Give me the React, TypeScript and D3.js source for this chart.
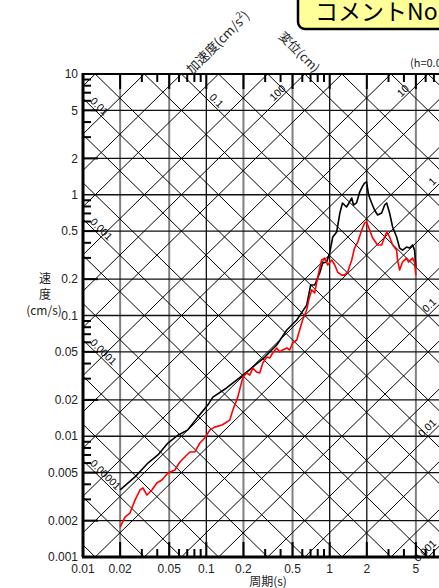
import { useEffect, useRef } from 'react'
import * as d3 from 'd3'

const WIDTH = 439
const HEIGHT = 588
const PLOT = { left: 83, top: 74, right: 453, bottom: 557 }
const TWO_PI = 2 * Math.PI

// period (s) tick labels and velocity (cm/s) tick labels
const periodTicks = [0.01, 0.02, 0.05, 0.1, 0.2, 0.5, 1, 2, 5]
const velocityTicks = [10, 5, 2, 1, 0.5, 0.2, 0.1, 0.05, 0.02, 0.01, 0.005, 0.002, 0.001]
const blackPeriodGrid = [0.1, 1, 2]
const greyPeriodGrid = [0.02, 0.05, 0.2, 0.5, 5]
const mantissas = [1, 2, 5]
const minorMantissas = [2, 3, 4, 5, 6, 7, 8, 9]

// diagonal label values
const dispLeftLabels = ['0.01', '0.001', '0.0001', '0.00001']
const dispTopLabels = ['0.1']
const accTopLabels = ['100', '10']
const accRightLabels = ['1', '0.1', '0.01', '0.001']

// [period s, velocity cm/s]
const blackSpectrum = [
  [0.02, 0.00359], [0.0264, 0.0046], [0.0336, 0.006], [0.0405, 0.007], [0.0488, 0.00879],
  [0.0588, 0.0102], [0.0708, 0.0113], [0.0853, 0.0144], [0.103, 0.0182], [0.113, 0.0211],
  [0.146, 0.0251], [0.198, 0.0321], [0.238, 0.0374], [0.298, 0.0453], [0.372, 0.057],
  [0.449, 0.0759], [0.541, 0.0918], [0.651, 0.122], [0.702, 0.179], [0.756, 0.179],
  [0.83, 0.225], [0.878, 0.272], [0.946, 0.277], [1.0, 0.33], [1.06, 0.447],
  [1.14, 0.492], [1.21, 0.706], [1.27, 0.855], [1.37, 0.792], [1.45, 0.871],
  [1.51, 0.94], [1.56, 0.822], [1.65, 0.855], [1.75, 1.05], [1.85, 1.18],
  [1.92, 1.25], [1.99, 1.28], [2.07, 0.995], [2.19, 0.855], [2.31, 0.748],
  [2.45, 0.68], [2.64, 0.706], [2.79, 0.822], [2.9, 0.855], [3.06, 0.706],
  [3.24, 0.541], [3.49, 0.447], [3.69, 0.362], [3.9, 0.348], [4.2, 0.369],
  [4.44, 0.362], [4.7, 0.384], [4.88, 0.348], [5.0, 0.252],
]

const redSpectrum = [
  [0.02, 0.00177], [0.0219, 0.00214], [0.024, 0.00231], [0.0264, 0.00296], [0.029, 0.00359],
  [0.0306, 0.00373], [0.033, 0.00326], [0.0362, 0.00359], [0.0397, 0.0041], [0.0436, 0.00434],
  [0.0488, 0.00496], [0.0556, 0.00525], [0.061, 0.00612], [0.067, 0.00673], [0.0735, 0.00741],
  [0.0807, 0.00741], [0.0886, 0.00879], [0.0972, 0.00967], [0.107, 0.0113], [0.117, 0.0119],
  [0.134, 0.0124], [0.155, 0.0136], [0.164, 0.0165], [0.18, 0.0211], [0.198, 0.031],
  [0.213, 0.0334], [0.225, 0.0321], [0.238, 0.0367], [0.256, 0.034], [0.271, 0.0334],
  [0.287, 0.0404], [0.309, 0.0453], [0.327, 0.0445], [0.345, 0.0489], [0.372, 0.0538],
  [0.394, 0.0499], [0.416, 0.0518], [0.449, 0.0538], [0.474, 0.0518], [0.501, 0.0592],
  [0.541, 0.0627], [0.571, 0.0759], [0.604, 0.0918], [0.651, 0.111], [0.676, 0.134],
  [0.715, 0.163], [0.756, 0.154], [0.8, 0.208], [0.861, 0.288], [0.912, 0.299],
  [0.964, 0.262], [1.04, 0.288], [1.1, 0.262], [1.16, 0.229], [1.25, 0.216],
  [1.32, 0.216], [1.4, 0.229], [1.51, 0.288], [1.59, 0.362], [1.69, 0.406],
  [1.82, 0.511], [1.92, 0.583], [1.99, 0.595], [2.11, 0.511], [2.23, 0.439],
  [2.45, 0.384], [2.64, 0.384], [2.79, 0.447], [2.9, 0.492], [3.06, 0.447],
  [3.24, 0.384], [3.49, 0.348], [3.55, 0.288], [3.69, 0.238], [3.9, 0.277],
  [4.2, 0.299], [4.36, 0.277], [4.7, 0.299], [4.88, 0.277], [5.0, 0.216],
]

const NUM_FONT = '"Liberation Sans", Arial, sans-serif'
const JP_FONT = '"Noto Sans CJK JP", sans-serif'

function App() {
  const ref = useRef<SVGSVGElement>(null)

  useEffect(() => {
    drawChart()
  }, [])

  const drawChart = () => {
    const svg = d3.select(ref.current)
    svg.selectAll('*').remove()

    const x = d3.scaleLog().domain([0.01, 10]).range([PLOT.left, PLOT.right])
    const y = d3.scaleLog().domain([0.001, 10]).range([PLOT.bottom, PLOT.top])

    svg
      .append('defs')
      .append('clipPath')
      .attr('id', 'plot-clip')
      .append('rect')
      .attr('x', PLOT.left)
      .attr('y', PLOT.top)
      .attr('width', PLOT.right - PLOT.left)
      .attr('height', PLOT.bottom - PLOT.top)

    const grid = svg.append('g')
    // vertical grid
    greyPeriodGrid.forEach((t) => {
      grid.append('line').attr('x1', x(t)).attr('x2', x(t)).attr('y1', PLOT.top).attr('y2', PLOT.bottom)
        .attr('stroke', '#808080').attr('stroke-width', 2)
    })
    blackPeriodGrid.forEach((t) => {
      grid.append('line').attr('x1', x(t)).attr('x2', x(t)).attr('y1', PLOT.top).attr('y2', PLOT.bottom)
        .attr('stroke', '#111').attr('stroke-width', 1.3)
    })
    // horizontal grid
    velocityTicks.slice(1, -1).forEach((v) => {
      grid.append('line').attr('x1', PLOT.left).attr('x2', PLOT.right).attr('y1', y(v)).attr('y2', y(v))
        .attr('stroke', '#111').attr('stroke-width', 1.3)
    })

    // tripartite diagonals
    const diag = svg.append('g').attr('clip-path', 'url(#plot-clip)')
    const tEnds = [0.01, 10]
    for (let e = -7; e <= 2; e++) {
      mantissas.forEach((m) => {
        const D = m * Math.pow(10, e)
        diag.append('line')
          .attr('x1', x(tEnds[0])).attr('y1', y((TWO_PI * D) / tEnds[0]))
          .attr('x2', x(tEnds[1])).attr('y2', y((TWO_PI * D) / tEnds[1]))
          .attr('stroke', '#000').attr('stroke-width', 1)
      })
    }
    for (let e = -5; e <= 6; e++) {
      mantissas.forEach((m) => {
        const A = m * Math.pow(10, e)
        diag.append('line')
          .attr('x1', x(tEnds[0])).attr('y1', y((A * tEnds[0]) / TWO_PI))
          .attr('x2', x(tEnds[1])).attr('y2', y((A * tEnds[1]) / TWO_PI))
          .attr('stroke', '#000').attr('stroke-width', 1)
      })
    }

    // spectra
    const line = d3
      .line<number[]>()
      .x((d) => x(d[0]))
      .y((d) => y(d[1]))
    const curves = svg.append('g').attr('clip-path', 'url(#plot-clip)')
    curves.append('path').datum(blackSpectrum).attr('fill', 'none').attr('stroke', '#000')
      .attr('stroke-width', 1.6).attr('stroke-linejoin', 'round').attr('d', line)
    curves.append('path').datum(redSpectrum).attr('fill', 'none').attr('stroke', '#ff0000')
      .attr('stroke-width', 1.6).attr('stroke-linejoin', 'round').attr('d', line)

    // ticks
    const ticks = svg.append('g').attr('stroke', '#000').attr('stroke-width', 2)
    for (let e = -2; e <= 0; e++) {
      minorMantissas.concat([10]).forEach((m) => {
        const t = m * Math.pow(10, e)
        if (t >= 10) return
        const len = m === 2 || m === 5 || m === 10 ? 15 : 8
        ticks.append('line').attr('x1', x(t)).attr('x2', x(t)).attr('y1', PLOT.top).attr('y2', PLOT.top + len)
        ticks.append('line').attr('x1', x(t)).attr('x2', x(t)).attr('y1', PLOT.bottom).attr('y2', PLOT.bottom - len)
      })
    }
    for (let e = -3; e <= 0; e++) {
      minorMantissas.forEach((m) => {
        const v = m * Math.pow(10, e)
        const len = m === 2 || m === 5 ? 15 : 8
        ticks.append('line').attr('x1', PLOT.left).attr('x2', PLOT.left + len).attr('y1', y(v)).attr('y2', y(v))
      })
    }

    // frame
    const frame = svg.append('g').attr('stroke', '#000')
    frame.append('line').attr('x1', PLOT.left).attr('x2', PLOT.right).attr('y1', PLOT.top).attr('y2', PLOT.top).attr('stroke-width', 2.2)
    frame.append('line').attr('x1', PLOT.left - 1).attr('x2', PLOT.right).attr('y1', PLOT.bottom).attr('y2', PLOT.bottom).attr('stroke-width', 3)
    frame.append('line').attr('x1', PLOT.left).attr('x2', PLOT.left).attr('y1', PLOT.top - 1).attr('y2', PLOT.bottom).attr('stroke-width', 3)

    // axis tick labels
    svg.append('g').selectAll('text').data(velocityTicks).join('text')
      .attr('x', PLOT.left - 5).attr('y', (d) => y(d)).attr('dy', '0.35em')
      .attr('text-anchor', 'end').attr('font-family', NUM_FONT).attr('font-size', 12).attr('fill', '#222')
      .text((d) => String(d))
    svg.append('g').selectAll('text').data(periodTicks).join('text')
      .attr('x', (d) => x(d)).attr('y', PLOT.bottom + 16)
      .attr('text-anchor', 'middle').attr('font-family', NUM_FONT).attr('font-size', 12).attr('fill', '#222')
      .text((d) => String(d))

    // diagonal labels
    const angD = (Math.atan2(y(1) - y(10), x(1) - x(0.1)) * 180) / Math.PI
    const lbl = svg.append('g').attr('font-family', NUM_FONT).attr('font-size', 10.5).attr('fill', '#000')
    const dispPoint = (D: number, px: number) => [px, y((TWO_PI * D) / x.invert(px))]
    const accPoint = (A: number, px: number) => [px, y((A * x.invert(px)) / TWO_PI)]
    dispLeftLabels.forEach((s) => {
      const [px, py] = dispPoint(+s, PLOT.left + 5)
      lbl.append('text').attr('transform', `translate(${px},${py}) rotate(${angD})`).attr('dy', -2).text(s)
    })
    dispTopLabels.forEach((s) => {
      const tc = (TWO_PI * +s) / 10
      const [px, py] = dispPoint(+s, x(tc) + 26)
      lbl.append('text').attr('transform', `translate(${px},${py}) rotate(${angD})`).attr('dy', -2).text(s)
    })
    accTopLabels.forEach((s) => {
      const tc = (TWO_PI * 10) / +s
      const [px, py] = accPoint(+s, x(tc) - 17)
      lbl.append('text').attr('transform', `translate(${px},${py}) rotate(${-angD})`).attr('dy', -2)
        .attr('text-anchor', 'end').text(s)
    })
    accRightLabels.forEach((s) => {
      const [px, py] = accPoint(+s, 439)
      lbl.append('text').attr('transform', `translate(${px},${py}) rotate(${-angD})`).attr('dy', -3)
        .attr('text-anchor', 'end').text(s)
    })

    // axis titles
    const jp = svg.append('g').attr('font-family', JP_FONT).attr('font-size', 12).attr('fill', '#222')
    jp.append('text').attr('x', 45).attr('y', 283).attr('text-anchor', 'middle').text('速')
    jp.append('text').attr('x', 45).attr('y', 299).attr('text-anchor', 'middle').text('度')
    jp.append('text').attr('x', 44).attr('y', 315).attr('text-anchor', 'middle').text('(cm/s)')
    jp.append('text').attr('x', 268).attr('y', 586).attr('text-anchor', 'middle').text('周期(s)')
    const acc = jp.append('text').attr('transform', 'translate(192,75) rotate(-45)').attr('font-size', 13)
    acc.append('tspan').text('加速度(cm/s')
    acc.append('tspan').attr('dy', -6).attr('font-size', 9).text('2')
    acc.append('tspan').attr('dy', 6).text(')')
    jp.append('text').attr('transform', 'translate(278,37) rotate(45)').attr('font-size', 12.5).text('変位(cm)')
    jp.append('text').attr('x', 410).attr('y', 67).attr('font-size', 11).text('(h=0.05)')

    // comment box
    svg.append('rect').attr('x', 298).attr('y', -10).attr('width', 170).attr('height', 39).attr('rx', 7)
      .attr('fill', '#ffff99').attr('stroke', '#000').attr('stroke-width', 2.5)
    svg.append('text').attr('x', 315).attr('y', 20).attr('font-family', JP_FONT).attr('font-size', 23)
      .attr('fill', '#000').text('コメントNo.')
  }

  return (
    <svg
      ref={ref}
      width={WIDTH}
      height={HEIGHT}
      style={{ position: 'absolute', left: 0, top: 0, background: '#fff' }}
    />
  )
}

export default App
